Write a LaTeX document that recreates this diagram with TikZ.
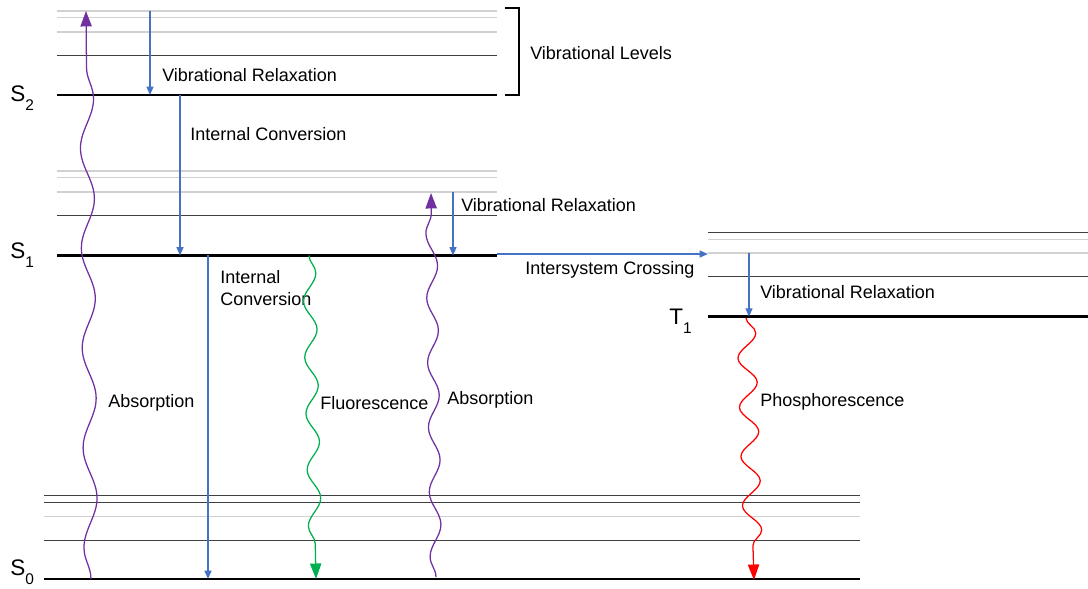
\documentclass[tikz,border=0pt]{standalone}
\usepackage{fontspec}
\setmainfont{Liberation Sans}
\usetikzlibrary{arrows.meta,decorations.pathmorphing,positioning}

\definecolor{icblue}{HTML}{4472C4}
\definecolor{abspurple}{HTML}{7030A0}
\definecolor{flgreen}{HTML}{00B050}
\definecolor{phred}{HTML}{FF0000}
\newcommand{\statename}[2]{#1\raisebox{-6pt}{\fontsize{11}{11}\selectfont #2}}

\begin{document}
\begin{tikzpicture}[x=0.025cm,y=-0.025cm,
    lbl/.style={anchor=west,inner sep=0,font=\fontsize{12.8}{15.5}\selectfont},
    statelbl/.style={anchor=base west,inner sep=0,font=\fontsize{16}{16}\selectfont},
    ground/.style={line width=1.8pt},
    vibdark/.style={line width=0.6pt,black!75},
    viblight/.style={line width=0.9pt,black!18},
    nonrad/.style={icblue,line width=0.9pt,-{Triangle[length=6pt,width=5pt]}},
    wave/.style n args={2}{line width=0.9pt,decorate,
      decoration={snake,amplitude=#1,segment length=#2,post length=13pt}},
    tip/.style={-{Triangle[length=11pt,width=8pt]}}]
  \useasboundingbox (0,0) rectangle (1088,589);

  % S2 manifold
  \foreach \y in {11,17.7,32} \draw[viblight] (57,\y) -- (497,\y);
  \draw[vibdark] (57,55) -- (497,55);
  \draw[ground] (57,95) coordinate (S2l) -- (497,95) coordinate (S2r);
  % S1 manifold
  \foreach \y in {171,177.7,192} \draw[viblight] (57,\y) -- (497,\y);
  \draw[vibdark] (57,215) -- (497,215);
  \draw[ground] (57,255.5) coordinate (S1l) -- (497,255.5) coordinate (S1r);
  % T1 manifold
  \foreach \y in {239.3,253} \draw[viblight] (708,\y) -- (1088,\y);
  \foreach \y in {232,276.7} \draw[vibdark] (708,\y) -- (1088,\y);
  \draw[ground] (708,316.7) coordinate (T1l) -- (1088,316.7) coordinate (T1r);
  % S0 manifold
  \draw[viblight] (44,516.7) -- (860,516.7);
  \foreach \y in {495,502.3,540} \draw[vibdark] (44,\y) -- (860,\y);
  \draw[ground] (44,579) coordinate (S0l) -- (860,579) coordinate (S0r);

  % state labels
  \node[statelbl] (S2) at (10,102) {\statename{S}{2}};
  \node[statelbl] (S1) at (10,259) {\statename{S}{1}};
  \node[statelbl] (S0) at (10,576) {\statename{S}{0}};
  \node[statelbl] (T1) at (669,325) {\statename{T}{1}};

  % bracket
  \coordinate (brt) at (505,8);
  \coordinate (brb) at (505,95);
  \draw[line width=1.2pt] (brt) -- ++(14,0) |- (brb);
  \node[lbl] (vlev) at (530,53) {Vibrational Levels};

  % non-radiative steps
  \coordinate (vr2a) at (150,11);  \coordinate (vr2b) at (150,95);
  \coordinate (ic1a) at (180,95);  \coordinate (ic1b) at (180,255.5);
  \coordinate (vr1a) at (453,192); \coordinate (vr1b) at (453,255.5);
  \coordinate (ic0a) at (208,255.5); \coordinate (ic0b) at (208,579);
  \coordinate (isca) at (497,254);  \coordinate (iscb) at (708,254);
  \coordinate (vrta) at (749,253); \coordinate (vrtb) at (749,316.7);
  \draw[nonrad] (vr2a) -- (vr2b);
  \draw[nonrad] (ic1a) -- (ic1b);
  \draw[nonrad] (vr1a) -- (vr1b);
  \draw[nonrad] (ic0a) -- (ic0b);
  \draw[nonrad] (isca) -- (iscb);
  \draw[nonrad] (vrta) -- (vrtb);
  \node[lbl] (vr2) at (162,75) {Vibrational Relaxation};
  \node[lbl] (ic1) at (190,134) {Internal Conversion};
  \node[lbl] (vr1) at (461,205) {Vibrational Relaxation};
  \node[lbl,anchor=north west,align=left] (ic0) at (220,270) {Internal\\Conversion};
  \node[lbl] (isc) at (525,270) {Intersystem Crossing};
  \node[lbl] (vrt) at (760,292) {Vibrational Relaxation};

  % radiative steps
  \coordinate (ab1a) at (91,579);  \coordinate (ab1b) at (86,11);
  \coordinate (fla) at (309,255.5); \coordinate (flb) at (316,579);
  \coordinate (ab2a) at (436,577); \coordinate (ab2b) at (431,193);
  \coordinate (pha) at (746,318);  \coordinate (phb) at (754,580);
  \draw[abspurple,wave={4.8pt}{71pt},tip] (ab1a) -- (ab1b);
  \draw[flgreen,wave={4.6pt}{40pt},tip] (fla) -- (flb);
  \draw[abspurple,wave={4pt}{46pt},tip] (ab2a) -- (ab2b);
  \draw[phred,wave={6.6pt}{35pt},tip] (pha) -- (phb);
  \node[lbl] (ab1) at (108,403) {Absorption};
  \node[lbl] (fl) at (320,403) {Fluorescence};
  \node[lbl] (ab2) at (447,400) {Absorption};
  \node[lbl] (ph) at (760,402) {Phosphorescence};
\end{tikzpicture}
\end{document}
